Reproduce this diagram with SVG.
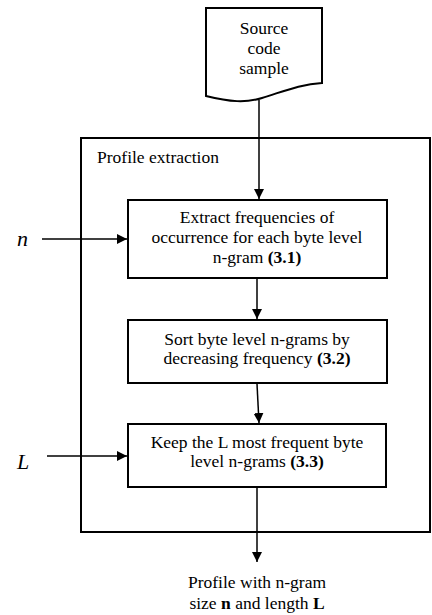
<svg xmlns="http://www.w3.org/2000/svg" width="432" height="615" viewBox="0 0 432 615">
<style>
.s{fill:#fff;stroke:#000;stroke-width:2}
.t{font-family:'Liberation Serif','DejaVu Serif',serif;font-size:17.5px;fill:#000;text-anchor:middle}
.v{font-family:'Liberation Serif','DejaVu Serif',serif;font-size:22px;font-style:italic;fill:#000}
.c{fill:none;stroke:#000;stroke-width:1.5}
</style>
<defs>
<marker id="a" viewBox="0 0 10 10" refX="10" refY="5" markerWidth="10" markerHeight="10" markerUnits="userSpaceOnUse" orient="auto">
<path d="M0,0 L10,5 L0,10 Z" fill="#000"/>
</marker>
</defs>
<rect width="432" height="615" fill="#fff"/>
<g id="frame">
<rect x="81" y="138" width="349" height="394" fill="none" stroke="#000" stroke-width="2"/>
<text x="97" y="163" class="t" style="text-anchor:start">Profile extraction</text>
</g>
<g id="source">
<path class="s" d="M206,8 H322 V83 C300,84 282,92 262,98 C246,103 230,102 206,96 Z"/>
<text class="t" x="264" y="34">Source</text>
<text class="t" x="264" y="54">code</text>
<text class="t" x="264" y="74">sample</text>
</g>
<g id="step1">
<rect class="s" x="128" y="200" width="259" height="78"/>
<text class="t" x="257" y="223">Extract frequencies of</text>
<text class="t" x="257" y="243">occurrence for each byte level</text>
<text class="t" x="257" y="263">n-gram <tspan font-weight="bold">(3.1)</tspan></text>
</g>
<g id="step2">
<rect class="s" x="128" y="320" width="259" height="63"/>
<text class="t" x="257" y="345">Sort byte level n-grams by</text>
<text class="t" x="257" y="364">decreasing frequency <tspan font-weight="bold">(3.2)</tspan></text>
</g>
<g id="step3">
<rect class="s" x="128" y="424" width="258" height="63"/>
<text class="t" x="257" y="448">Keep the L most frequent byte</text>
<text class="t" x="257" y="467">level n-grams <tspan font-weight="bold">(3.3)</tspan></text>
</g>
<g id="inputN"><text class="v" x="17" y="246">n</text></g>
<g id="inputL"><text class="v" x="17" y="469">L</text></g>
<g id="output">
<text class="t" x="257" y="588">Profile with n-gram</text>
<text class="t" x="257" y="609">size <tspan font-weight="bold">n</tspan> and length <tspan font-weight="bold">L</tspan></text>
</g>
<g id="connectors">
<line class="c" x1="259" y1="100" x2="259" y2="199" marker-end="url(#a)"/>
<line class="c" x1="42" y1="239" x2="127" y2="239" marker-end="url(#a)"/>
<line class="c" x1="257" y1="279" x2="257" y2="319" marker-end="url(#a)"/>
<line class="c" x1="257" y1="384" x2="259" y2="423" marker-end="url(#a)"/>
<line class="c" x1="47" y1="456" x2="127" y2="456" marker-end="url(#a)"/>
<line class="c" x1="257" y1="488" x2="257" y2="562" marker-end="url(#a)"/>
</g>
</svg>
